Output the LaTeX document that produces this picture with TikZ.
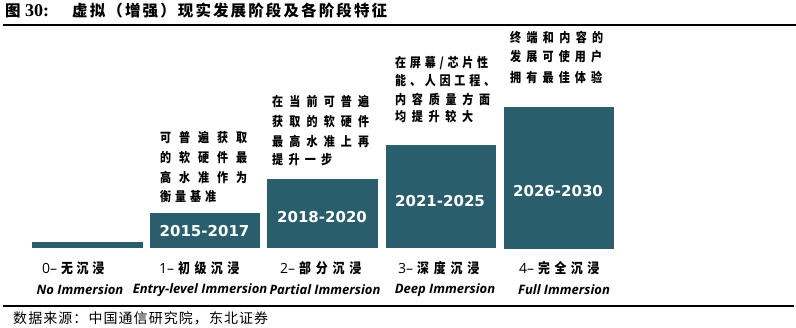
\documentclass[tikz,border=0pt]{standalone}
\usepackage{fontspec}
\newfontfamily\cjk{Noto Sans CJK SC}
\newfontfamily\cjkc[FakeStretch=0.85]{Noto Sans CJK SC}
\newfontfamily\osans{Open Sans}
\newfontfamily\dvs{DejaVu Sans}
\newfontfamily\lserif{Liberation Serif}
\definecolor{barteal}{RGB}{42,94,108}
\def\myjl#1#2{\makebox[#1][s]{\myjlA#2\relax}}
\def\myjlA#1{#1\myjlB}
\def\myjlB#1{\ifx#1\relax\else\hfill#1\expandafter\myjlB\fi}
\newcommand\fs[1]{\fontsize{#1}{#1}\selectfont}
\tikzset{
  desc/.style={inner sep=0pt, anchor=west, font=\cjkc\bfseries\fs{13pt}},
  year/.style={inner sep=0pt, text=white, font=\dvs\bfseries\fs{15pt}},
  cnlab/.style={inner sep=0pt, anchor=west},
  enlab/.style={inner sep=0pt, font=\osans\bfseries\itshape\fs{13pt}},
  bar/.style={fill=barteal},
  rulebar/.style={line width=2pt}
}
\newcommand\cnl[4]{\makebox[19pt][l]{\osans\fs{14pt}#1–}{\cjkc\bfseries\fs{14pt}\myjl{#2}{#3}}}
\begin{document}
\begin{tikzpicture}[x=1pt,y=-1pt]
\useasboundingbox (0,0) rectangle (796,327);
\fill[white] (0,0) rectangle (796,327);
% title
\node[inner sep=0pt, anchor=west, font=\cjk\bfseries\fs{15.5pt}] (tfig) at (5,11) {图};
\node[inner sep=0pt, anchor=west, font=\lserif\bfseries\fs{18pt}] (tnum) at (25,11) {30:};
\node[inner sep=0pt, anchor=west, font=\cjk\bfseries\fs{15.5pt}] (ttxt) at (72,11) {\myjl{315pt}{虚拟（增强）现实发展阶段及各阶段特征}};
\coordinate (rtl) at (3,25);
\coordinate (rtr) at (796,25);
\draw[rulebar] (rtl) -- (rtr);
\coordinate (rbl) at (3,306);
\coordinate (rbr) at (794,306);
\draw[rulebar] (rbl) -- (rbr);
% bars
\fill[bar] (32,242) rectangle (143,248);
\fill[bar] (150,213) rectangle (260,248);
\fill[bar] (267,179) rectangle (378,248);
\fill[bar] (386,145) rectangle (496,248);
\fill[bar] (504,107) rectangle (614,249);
% years
\node[year] (y1) at (204.5,231) {2015-2017};
\node[year] (y2) at (322,217) {2018-2020};
\node[year] (y3) at (440,201) {2021-2025};
\node[year] (y4) at (558,191) {2026-2030};
% descriptions
\node[desc] (d1a) at (160,138) {\myjl{87pt}{可普遍获取}};
\node[desc] (d1b) at (160,158) {\myjl{87pt}{的软硬件最}};
\node[desc] (d1c) at (160,178) {\myjl{87pt}{高水准作为}};
\node[desc] (d1d) at (160,197) {\myjl{56pt}{衡量基准}};
\node[desc] (d2a) at (272,102) {\myjl{97pt}{在当前可普遍}};
\node[desc] (d2b) at (272,122) {\myjl{97pt}{获取的软硬件}};
\node[desc] (d2c) at (272,142) {\myjl{97pt}{最高水准上再}};
\node[desc] (d2d) at (272,160) {\myjl{60pt}{提升一步}};
\node[desc] (d3a) at (395,63) {\myjl{93pt}{在屏幕/芯片性}};
\node[desc] (d3b) at (395,81) {\myjl{100pt}{能、人因工程、}};
\node[desc] (d3c) at (395,99) {\myjl{95pt}{内容质量方面}};
\node[desc] (d3d) at (395,117) {\myjl{78pt}{均提升较大}};
\node[desc] (d4a) at (510,37) {\myjl{93pt}{终端和内容的}};
\node[desc] (d4b) at (510,57) {\myjl{92pt}{发展可使用户}};
\node[desc] (d4c) at (510,77) {\myjl{92pt}{拥有最佳体验}};
% labels
\node[cnlab] (c0) at (42,268.5) {\cnl{0}{43pt}{无沉浸}{}};
\node[cnlab] (c1) at (159,268.5) {\cnl{1}{61pt}{初级沉浸}{}};
\node[cnlab] (c2) at (280,268.5) {\cnl{2}{62pt}{部分沉浸}{}};
\node[cnlab] (c3) at (398,268.5) {\cnl{3}{62pt}{深度沉浸}{}};
\node[cnlab] (c4) at (519,268.5) {\cnl{4}{61pt}{完全沉浸}{}};
\node[enlab] (e0) at (80,290) {No Immersion};
\node[enlab] (e1) at (200,290) {Entry-level Immersion};
\node[enlab] (e2) at (325,290) {Partial Immersion};
\node[enlab] (e3) at (445,290) {Deep Immersion};
\node[enlab] (e4) at (564,290) {Full Immersion};
% source
\node[inner sep=0pt, anchor=west, font=\cjk\fs{14pt}] (src) at (13,318) {\myjl{255pt}{数据来源：中国通信研究院，东北证券}};
\end{tikzpicture}
\end{document}
